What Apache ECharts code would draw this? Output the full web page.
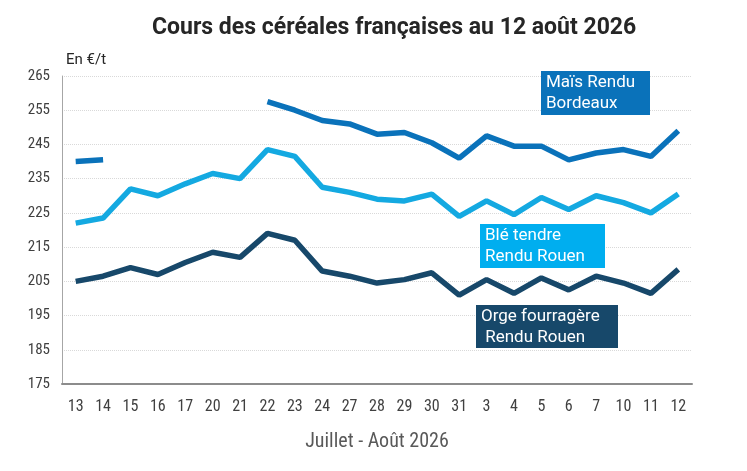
<!DOCTYPE html>
<html>
<head>
<meta charset="utf-8">
<script src="https://cdn.jsdelivr.net/npm/echarts@6/dist/echarts.min.js"></script>
<style>
html,body{margin:0;padding:0;background:#fff;}
#chart{width:747px;height:471px;}
</style>
</head>
<body>
<div id="chart"></div>
<script>
var jours = ['13','14','15','16','17','20','21','22','23','24','27','28','29','30','31','3','4','5','6','7','10','11','12'];
var mais = [240, 240.5, null, null, null, null, null, 257.5, 255, 252, 251, 248, 248.5, 245.5, 241, 247.5, 244.5, 244.5, 240.5, 242.5, 243.5, 241.5, 249];
var ble = [222, 223.5, 232, 230, 233.5, 236.5, 235, 243.5, 241.5, 232.5, 231, 229, 228.5, 230.5, 224, 228.5, 224.5, 229.5, 226, 230, 228, 225, 230.5];
var orge = [205, 206.5, 209, 207, 210.5, 213.5, 212, 219, 217, 208, 206.5, 204.5, 205.5, 207.5, 201, 205.5, 201.5, 206, 202.5, 206.5, 204.5, 201.5, 208.5];

var fontNarrow = '"Liberation Sans Narrow", "Roboto Condensed", Roboto, sans-serif';

var myChart = echarts.init(document.getElementById('chart'));

// encadré de légende posé sur le graphique
function boite(left, top, w, h, couleur, lignes) {
	return {
		type: 'group',
		left: left,
		top: top,
		z: 100,
		children: [{
			type: 'rect',
			z: 100,
			shape: {x: 0, y: 0, width: w, height: h},
			style: {fill: couleur}
		}, {
			type: 'text',
			z: 101,
			x: 5,
			y: 1,
			style: {
				text: lignes,
				fill: '#fff',
				fontSize: 17,
				fontFamily: 'Roboto, sans-serif',
				lineHeight: 21,
				verticalAlign: 'top'
			}
		}]
	};
}

var option = {
	animation: false,
	title: {
		text: 'Cours des céréales françaises au 12 août 2026',
		left: 147,
		top: 12,
		textStyle: {
			fontSize: 23,
			fontWeight: 'bold',
			color: '#262626',
			fontFamily: 'Roboto, sans-serif'
		}
	},
	grid: {
		left: 62,
		right: 55,
		top: 76,
		bottom: 87
	},
	xAxis: {
		type: 'category',
		data: jours,
		boundaryGap: true,
		name: 'Juillet - Août 2026',
		nameLocation: 'middle',
		nameGap: 48,
		nameTextStyle: {
			fontSize: 20,
			color: '#595959',
			fontFamily: fontNarrow
		},
		axisLine: {lineStyle: {color: '#8c8c8c', width: 2}},
		axisTick: {show: false},
		axisLabel: {
			fontSize: 16,
			color: '#404040',
			margin: 15,
			fontFamily: fontNarrow
		}
	},
	yAxis: {
		type: 'value',
		min: 175,
		max: 265,
		interval: 10,
		name: 'En €/t',
		nameLocation: 'end',
		nameGap: 8,
		nameTextStyle: {
			fontSize: 15,
			color: '#262626',
			align: 'left',
			padding: [0, 0, 0, 4],
			fontFamily: 'Roboto, sans-serif'
		},
		axisLine: {show: true, lineStyle: {color: '#a6a6a6', width: 1}},
		axisTick: {show: false},
		axisLabel: {
			fontSize: 15,
			color: '#404040',
			margin: 12,
			fontFamily: fontNarrow
		},
		splitLine: {
			lineStyle: {color: '#d9d9d9', type: 'dotted', width: 1}
		}
	},
	series: [{
		name: 'Maïs Rendu Bordeaux',
		type: 'line',
		data: mais,
		symbol: 'none',
		connectNulls: false,
		lineStyle: {color: '#0A72BA', width: 5.5},
		itemStyle: {color: '#0A72BA'}
	}, {
		name: 'Blé tendre Rendu Rouen',
		type: 'line',
		data: ble,
		symbol: 'none',
		lineStyle: {color: '#14A9E1', width: 5.5},
		itemStyle: {color: '#14A9E1'}
	}, {
		name: 'Orge fourragère Rendu Rouen',
		type: 'line',
		data: orge,
		symbol: 'none',
		lineStyle: {color: '#17486A', width: 5.5},
		itemStyle: {color: '#17486A'}
	}],
	graphic: [
		boite(541, 71, 109, 44, '#0A72BA', 'Maïs Rendu\nBordeaux'),
		boite(480, 224, 125, 44, '#00AEEF', 'Blé tendre\nRendu Rouen'),
		boite(476, 305, 142, 43, '#17486A', 'Orge fourragère\n Rendu Rouen')
	]
};

myChart.setOption(option);
</script>
</body>
</html>
